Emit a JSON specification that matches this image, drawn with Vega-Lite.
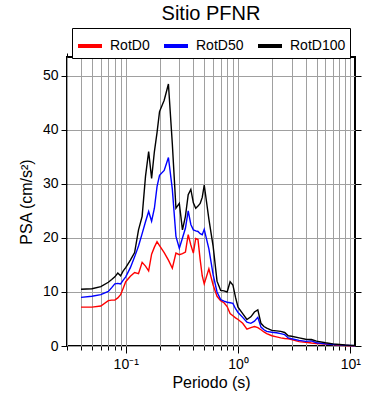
{
  "$schema": "https://vega.github.io/schema/vega-lite/v6.json",
  "autosize": {"type": "none"},
  "width": 288,
  "height": 289,
  "padding": {"left": 67, "top": 57, "right": 35, "bottom": 54},
  "background": "white",
  "config": {
    "font": "Liberation Sans",
    "view": {"stroke": "black", "strokeWidth": 2},
    "axis": {"domain": false, "labelFont": "Liberation Sans", "titleFont": "Liberation Sans", "labelColor": "black", "titleColor": "black", "tickColor": "black", "gridColor": "#a0a0a0", "gridWidth": 1, "gridOpacity": 1, "titleFontWeight": "normal"}
  },
  "title": {"text": "Sitio PFNR", "fontSize": 20, "fontWeight": "normal", "font": "Liberation Sans", "color": "black", "anchor": "middle", "baseline": "alphabetic", "offset": 7, "dy": 19},
  "data": {"values": [
    {"T": 0.04, "RotD0": 7.2, "RotD50": 9.0, "RotD100": 10.5},
    {"T": 0.05, "RotD0": 7.2, "RotD50": 9.2, "RotD100": 10.6},
    {"T": 0.06, "RotD0": 7.4, "RotD50": 9.5, "RotD100": 11.0},
    {"T": 0.07, "RotD0": 8.4, "RotD50": 10.1, "RotD100": 11.8},
    {"T": 0.075, "RotD0": 8.5, "RotD50": 10.8, "RotD100": 12.3},
    {"T": 0.08, "RotD0": 8.5, "RotD50": 11.5, "RotD100": 12.8},
    {"T": 0.085, "RotD0": 8.9, "RotD50": 11.6, "RotD100": 13.5},
    {"T": 0.09, "RotD0": 9.5, "RotD50": 11.5, "RotD100": 13.0},
    {"T": 0.095, "RotD0": 10.7, "RotD50": 12.2, "RotD100": 13.9},
    {"T": 0.1, "RotD0": 11.9, "RotD50": 12.8, "RotD100": 14.5},
    {"T": 0.11, "RotD0": 12.9, "RotD50": 14.5, "RotD100": 15.9},
    {"T": 0.12, "RotD0": 13.6, "RotD50": 16.5, "RotD100": 17.3},
    {"T": 0.13, "RotD0": 13.4, "RotD50": 18.5, "RotD100": 21.5},
    {"T": 0.14, "RotD0": 15.5, "RotD50": 20.8, "RotD100": 24.0},
    {"T": 0.15, "RotD0": 14.8, "RotD50": 23.0, "RotD100": 31.4},
    {"T": 0.16, "RotD0": 13.9, "RotD50": 24.9, "RotD100": 36.0},
    {"T": 0.17, "RotD0": 17.0, "RotD50": 23.1, "RotD100": 31.0},
    {"T": 0.18, "RotD0": 18.3, "RotD50": 25.5, "RotD100": 36.0},
    {"T": 0.19, "RotD0": 19.3, "RotD50": 29.5, "RotD100": 39.5},
    {"T": 0.2, "RotD0": 18.6, "RotD50": 31.6, "RotD100": 43.4},
    {"T": 0.22, "RotD0": 17.3, "RotD50": 32.5, "RotD100": 45.5},
    {"T": 0.24, "RotD0": 15.9, "RotD50": 34.9, "RotD100": 48.5},
    {"T": 0.26, "RotD0": 14.4, "RotD50": 29.0, "RotD100": 37.4},
    {"T": 0.28, "RotD0": 17.2, "RotD50": 20.3, "RotD100": 25.5},
    {"T": 0.3, "RotD0": 16.9, "RotD50": 18.1, "RotD100": 26.4},
    {"T": 0.32, "RotD0": 17.1, "RotD50": 20.0, "RotD100": 21.5},
    {"T": 0.34, "RotD0": 17.4, "RotD50": 21.8, "RotD100": 24.0},
    {"T": 0.36, "RotD0": 20.6, "RotD50": 25.0, "RotD100": 28.0},
    {"T": 0.38, "RotD0": 18.7, "RotD50": 22.5, "RotD100": 29.0},
    {"T": 0.4, "RotD0": 17.2, "RotD50": 21.5, "RotD100": 26.5},
    {"T": 0.42, "RotD0": 19.9, "RotD50": 21.3, "RotD100": 25.5},
    {"T": 0.44, "RotD0": 19.7, "RotD50": 21.2, "RotD100": 25.9},
    {"T": 0.46, "RotD0": 16.0, "RotD50": 20.8, "RotD100": 26.4},
    {"T": 0.48, "RotD0": 13.0, "RotD50": 20.6, "RotD100": 27.5},
    {"T": 0.5, "RotD0": 11.5, "RotD50": 21.6, "RotD100": 29.8},
    {"T": 0.55, "RotD0": 14.3, "RotD50": 18.0, "RotD100": 23.5},
    {"T": 0.6, "RotD0": 11.3, "RotD50": 13.2, "RotD100": 18.5},
    {"T": 0.65, "RotD0": 9.2, "RotD50": 10.0, "RotD100": 12.0},
    {"T": 0.7, "RotD0": 8.4, "RotD50": 8.6, "RotD100": 10.3},
    {"T": 0.75, "RotD0": 8.0, "RotD50": 8.3, "RotD100": 10.2},
    {"T": 0.8, "RotD0": 7.3, "RotD50": 8.1, "RotD100": 10.0},
    {"T": 0.85, "RotD0": 6.0, "RotD50": 8.0, "RotD100": 11.9},
    {"T": 0.9, "RotD0": 5.6, "RotD50": 7.9, "RotD100": 11.3},
    {"T": 0.95, "RotD0": 5.2, "RotD50": 6.9, "RotD100": 9.0},
    {"T": 1.0, "RotD0": 4.9, "RotD50": 6.2, "RotD100": 7.2},
    {"T": 1.1, "RotD0": 4.2, "RotD50": 5.3, "RotD100": 6.0},
    {"T": 1.2, "RotD0": 3.1, "RotD50": 4.4, "RotD100": 4.9},
    {"T": 1.3, "RotD0": 3.4, "RotD50": 4.2, "RotD100": 5.4},
    {"T": 1.4, "RotD0": 3.6, "RotD50": 4.6, "RotD100": 6.3},
    {"T": 1.5, "RotD0": 3.4, "RotD50": 5.3, "RotD100": 6.7},
    {"T": 1.6, "RotD0": 3.0, "RotD50": 3.5, "RotD100": 4.2},
    {"T": 1.7, "RotD0": 2.6, "RotD50": 3.0, "RotD100": 3.6},
    {"T": 1.8, "RotD0": 2.3, "RotD50": 2.7, "RotD100": 3.3},
    {"T": 2.0, "RotD0": 1.9, "RotD50": 2.55, "RotD100": 2.9},
    {"T": 2.2, "RotD0": 1.7, "RotD50": 2.45, "RotD100": 2.8},
    {"T": 2.4, "RotD0": 1.5, "RotD50": 2.3, "RotD100": 2.7},
    {"T": 2.6, "RotD0": 1.4, "RotD50": 2.1, "RotD100": 2.5},
    {"T": 2.8, "RotD0": 1.35, "RotD50": 1.5, "RotD100": 1.9},
    {"T": 3.0, "RotD0": 1.2, "RotD50": 1.35, "RotD100": 1.8},
    {"T": 3.5, "RotD0": 0.8, "RotD50": 1.05, "RotD100": 1.5},
    {"T": 4.0, "RotD0": 0.7, "RotD50": 0.85, "RotD100": 1.25},
    {"T": 4.5, "RotD0": 0.55, "RotD50": 0.95, "RotD100": 1.2},
    {"T": 5.0, "RotD0": 0.45, "RotD50": 0.6, "RotD100": 0.9},
    {"T": 6.0, "RotD0": 0.35, "RotD50": 0.4, "RotD100": 0.6},
    {"T": 7.0, "RotD0": 0.25, "RotD50": 0.28, "RotD100": 0.4},
    {"T": 8.0, "RotD0": 0.15, "RotD50": 0.2, "RotD100": 0.28},
    {"T": 9.0, "RotD0": 0.1, "RotD50": 0.12, "RotD100": 0.18},
    {"T": 10.0, "RotD0": 0.06, "RotD50": 0.08, "RotD100": 0.12},
    {"T": 11.0, "RotD0": 0.04, "RotD50": 0.05, "RotD100": 0.08}
  ]},
  "transform": [{"fold": ["RotD0", "RotD50", "RotD100"], "as": ["serie", "psa"]}],
  "layer": [
    {
      "mark": {"type": "line", "opacity": 0},
      "encoding": {
        "x": {"field": "T", "type": "quantitative", "scale": {"type": "log", "domain": [0.03, 11], "nice": false},
          "axis": {"orient": "top", "labels": false, "title": null, "grid": false,
            "values": [0.03,0.04,0.05,0.06,0.07,0.08,0.09,0.1,0.2,0.3,0.4,0.5,0.6,0.7,0.8,0.9,1,2,3,4,5,6,7,8,9,10],
            "tickSize": {"condition": {"test": "datum.value == 0.1 || datum.value == 1 || datum.value == 10", "value": 7}, "value": 4}}},
        "y": {"field": "psa", "type": "quantitative", "scale": {"domain": [0, 53.5], "nice": false},
          "axis": {"orient": "right", "labels": false, "title": null, "grid": false, "values": [0,10,20,30,40,50], "tickSize": 6}},
        "detail": {"field": "serie"}
      }
    },
    {
      "mark": {"type": "line", "strokeWidth": 1.4},
      "encoding": {
        "x": {"field": "T", "type": "quantitative",
          "axis": {"orient": "bottom", "title": "Periodo (s)", "titleFontSize": 16, "titlePadding": 3, "labelFontSize": 14, "labelPadding": 4, "grid": true,
            "values": [0.03,0.04,0.05,0.06,0.07,0.08,0.09,0.1,0.2,0.3,0.4,0.5,0.6,0.7,0.8,0.9,1,2,3,4,5,6,7,8,9,10],
            "labelExpr": "datum.value == 0.1 ? '10⁻¹' : datum.value == 1 ? '10⁰' : datum.value == 10 ? '10¹' : ''",
            "labelOverlap": false,
            "tickSize": {"condition": {"test": "datum.value == 0.1 || datum.value == 1 || datum.value == 10", "value": 7}, "value": 4}}},
        "y": {"field": "psa", "type": "quantitative",
          "axis": {"orient": "left", "title": "PSA (cm/s²)", "titleFontSize": 16, "titlePadding": 8, "labelFontSize": 14, "labelPadding": 3, "grid": true, "values": [0,10,20,30,40,50], "tickSize": 6}},
        "color": {"field": "serie", "type": "nominal", "sort": ["RotD0", "RotD50", "RotD100"],
          "scale": {"domain": ["RotD0", "RotD50", "RotD100"], "range": ["#ff0000", "#0000ff", "#000000"]},
          "legend": {"title": null, "orient": "none", "direction": "horizontal", "legendX": 5, "legendY": -29,
            "symbolType": "stroke", "symbolSize": 576, "symbolStrokeWidth": 4, "labelFontSize": 14, "labelFont": "Liberation Sans", "labelColor": "black",
            "labelOffset": 6, "columnPadding": 6, "padding": 4, "strokeColor": "black", "fillColor": "white"}}
      }
    }
  ],
  "resolve": {"axis": {"x": "independent", "y": "independent"}}
}
